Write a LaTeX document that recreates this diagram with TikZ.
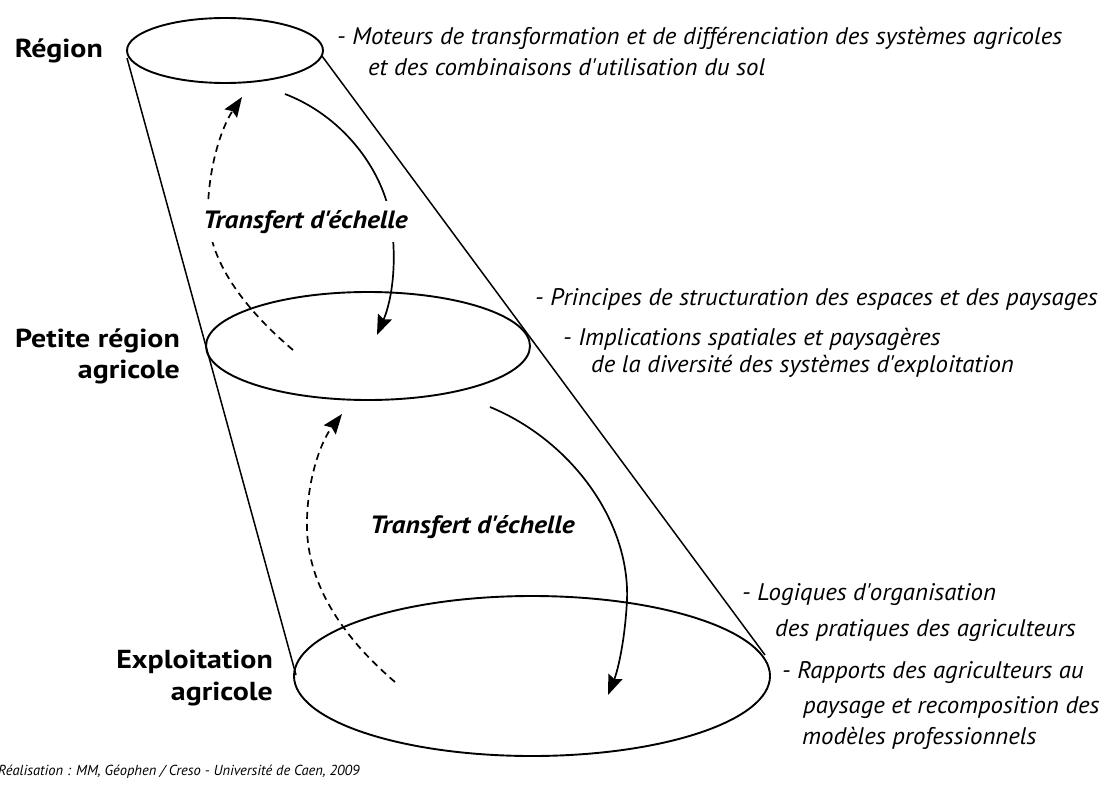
\documentclass[tikz,border=0pt]{standalone}
\usepackage{fontspec}
\setmainfont{PT Sans}
\newfontfamily\mynotefam{PT Sans}[FakeStretch=1.035]
\newfontfamily\mywidefam{PT Sans}[FakeStretch=1.15]
\newfontfamily\mytransfam{PT Sans}[FakeStretch=1.1]
\usetikzlibrary{arrows.meta}
\newcommand\mynotefont{\mynotefam\fontsize{24}{29}\selectfont\itshape}
\newcommand\mylevelfont{\mywidefam\fontsize{26}{31}\selectfont\bfseries}
\newcommand\mytransferfont{\mytransfam\fontsize{25}{29}\selectfont\bfseries\itshape}
\newcommand\mycreditfont{\fontsize{14.5}{17}\selectfont\itshape}
\tikzset{
  shapeline/.style={line width=1.5pt},
  rim/.style={line width=1.9pt},
  flow/.style={line width=1.7pt, -{Stealth[length=20pt,width=15pt,inset=3pt]}},
  backflow/.style={flow, dash pattern=on 7pt off 5pt},
  note/.style={anchor=base west, inner sep=0pt, font=\mynotefont},
  level/.style={anchor=base east, inner sep=0pt, font=\mylevelfont},
  transfer/.style={anchor=base west, fill=white, inner xsep=3pt, inner ysep=9pt, font=\mytransferfont},
}
\begin{document}
\begin{tikzpicture}[x=1pt,y=-1pt]
\useasboundingbox (0,0) rectangle (1113,792);
% ellipses
\draw[rim] (225,50.5) ellipse [x radius=98pt, y radius=32.5pt];
\draw[rim] (368,346) ellipse [x radius=162pt, y radius=54pt];
\draw[rim] (532,676) ellipse [x radius=238pt, y radius=80pt];
% cone sides
\coordinate (tl) at (127,58);
\coordinate (bl) at (296,675);
\coordinate (tr) at (322,56);
\coordinate (br) at (765,655);
\draw[shapeline] (tl) -- (bl);
\draw[shapeline] (tr) -- (br);
% upper arrows
\coordinate (a1s) at (285,94);
\coordinate (a1m) at (390,215);
\coordinate (a1e) at (377,335);
\draw[flow] (a1s) .. controls (340,115) and (380,165) .. (a1m) .. controls (398,260) and (392,300) .. (a1e);
\coordinate (b1s) at (293,350);
\coordinate (b1m) at (208,205);
\coordinate (b1e) at (242,97);
\draw[backflow] (b1s) .. controls (240,305) and (205,255) .. (b1m) .. controls (210,160) and (223,125) .. (b1e);
% lower arrows
\coordinate (a2s) at (490,407);
\coordinate (a2m) at (627,600);
\coordinate (a2e) at (608,695);
\draw[flow] (a2s) .. controls (570,440) and (630,520) .. (a2m) .. controls (625,640) and (618,670) .. (a2e);
\coordinate (b2s) at (395,682);
\coordinate (b2m) at (307,520);
\coordinate (b2e) at (342,414);
\draw[backflow] (b2s) .. controls (340,635) and (305,580) .. (b2m) .. controls (308,475) and (322,440) .. (b2e);
% transfer labels
\node[transfer] (t1) at (200,228) {Transfert d'échelle};
\node[transfer] (t2) at (367,533) {Transfert d'échelle};
% level labels
\node[level] (l1) at (103,57) {Région};
\node[level] (l2a) at (180,347) {Petite région};
\node[level] (l2b) at (180,378) {agricole};
\node[level] (l3a) at (273,668) {Exploitation};
\node[level] (l3b) at (273,700) {agricole};
% notes
\node[note] (n1a) at (337,45) {- Moteurs de transformation et de différenciation des systèmes agricoles};
\node[note] (n1b) at (368,75) {et des combinaisons d'utilisation du sol};
\node[note] (n2a) at (535,305) {- Principes de structuration des espaces et des paysages};
\node[note] (n2b) at (563,345) {- Implications spatiales et paysagères};
\node[note] (n2c) at (591,372) {de la diversité des systèmes d'exploitation};
\node[note] (n3a) at (742,600) {- Logiques d'organisation};
\node[note] (n3b) at (775,636) {des pratiques des agriculteurs};
\node[note] (n3c) at (782,678) {- Rapports des agriculteurs au};
\node[note] (n3d) at (803,713) {paysage et recomposition des};
\node[note] (n3e) at (802,744) {modèles professionnels};
% credit
\node[anchor=base west, inner sep=0pt, font=\mycreditfont] (cr) at (-2,775) {Réalisation : MM, Géophen / Creso - Université de Caen, 2009};
\end{tikzpicture}
\end{document}
